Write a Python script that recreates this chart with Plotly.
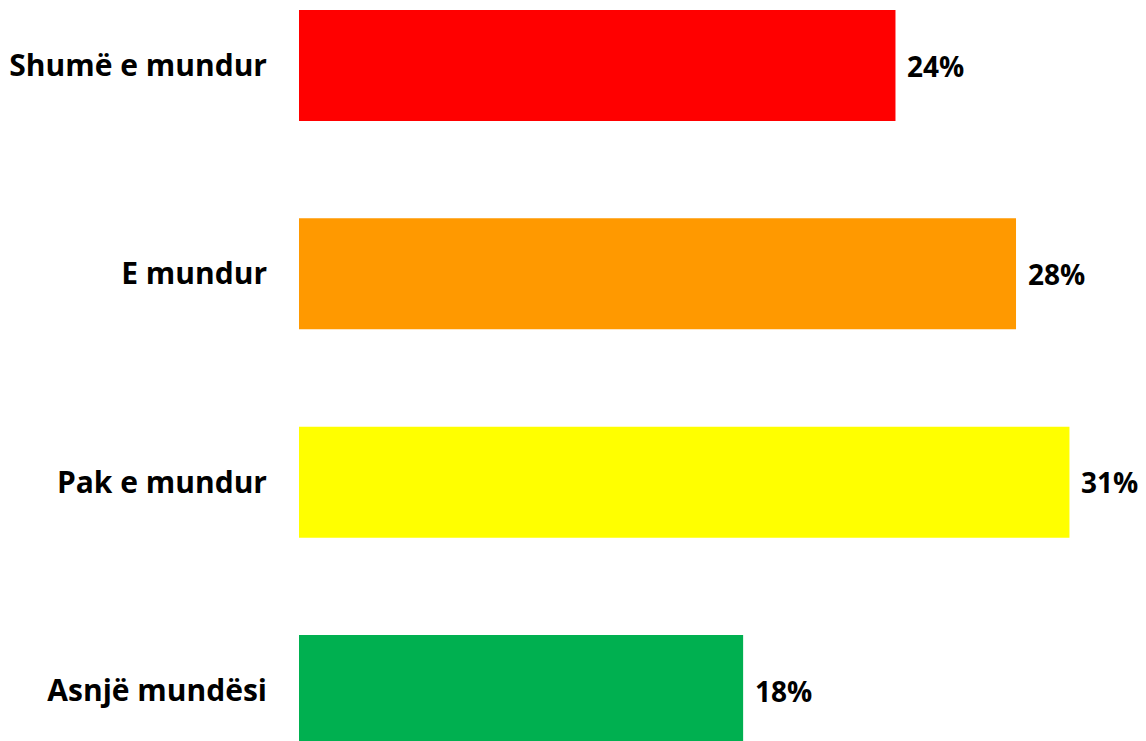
import plotly.graph_objects as go

categories = ["Shumë e mundur", "E mundur", "Pak e mundur", "Asnjë mundësi"]
values = [24.0, 28.85, 31.0, 17.87]
labels = ["24%", "28%", "31%", "18%"]
colors = ["#FF0000", "#FF9900", "#FFFF00", "#00B050"]

FONT = "Open Sans"
fig = go.Figure(go.Bar(
    x=values, y=categories, orientation="h",
    marker=dict(color=colors, line=dict(width=0)),
    hoverinfo="skip",
))

for c, v, t in zip(categories, values, labels):
    fig.add_annotation(x=v, y=c, text=f"<b>{t}</b>", showarrow=False,
                       xanchor="left", yanchor="middle", xshift=10,
                       font=dict(family=FONT, size=28, color="#000000"))

fig.update_layout(
    width=1138, height=733,
    margin=dict(l=291, r=0, t=0, b=0),
    plot_bgcolor="white", paper_bgcolor="white",
    bargap=0.467,
    showlegend=False,
    xaxis=dict(range=[0, 34.08], visible=False, showgrid=False, zeroline=False),
    yaxis=dict(range=[3.2424, -0.276], autorange=False, showgrid=False,
               zeroline=False, showline=False, ticks="", ticklabelstandoff=31,
               tickfont=dict(family=FONT, size=30, color="#000000", weight="bold")),
)

fig.write_html("out.html")
